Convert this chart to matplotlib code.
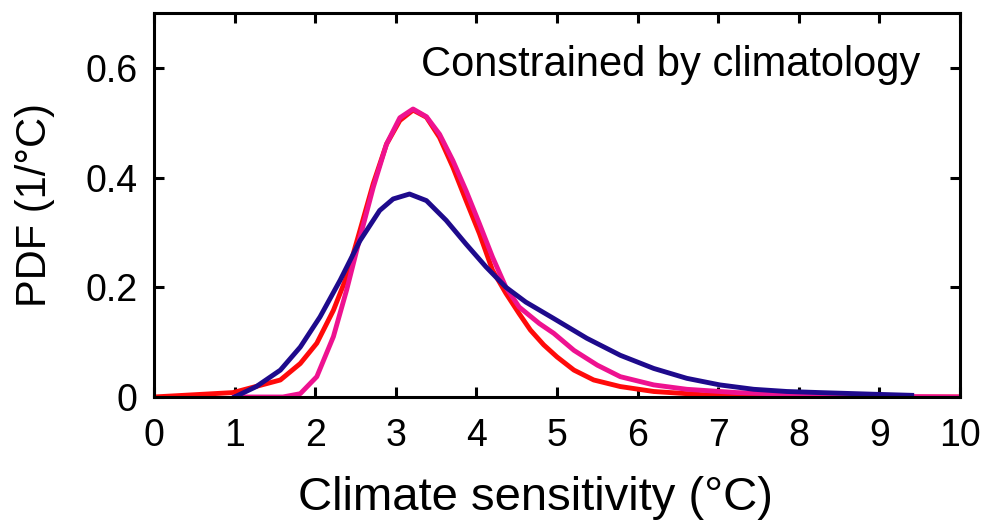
import numpy as np
import matplotlib.pyplot as plt

plt.rcParams['font.family'] = ['Liberation Sans', 'DejaVu Sans']

# Red curve
red_x = [0, 0.98, 1.568, 1.815, 2.02, 2.226, 2.39, 2.556, 2.72, 2.885, 3.05, 3.214, 3.38,
         3.543, 3.708, 3.872, 4.037, 4.2, 4.366, 4.53, 4.67, 4.835, 5.0, 5.21, 5.455, 5.785,
         6.2, 6.82, 7.44, 8.0, 10]
red_y = [0, 0.008, 0.031, 0.061, 0.098, 0.158, 0.219, 0.304, 0.389, 0.461, 0.504, 0.523, 0.51,
         0.473, 0.419, 0.358, 0.298, 0.231, 0.189, 0.152, 0.122, 0.095, 0.073, 0.049, 0.031, 0.019,
         0.01, 0.004, 0.001, 0.0, 0.0]

# Pink curve
pink_x = [1.0, 1.6, 1.815, 2.02, 2.226, 2.39, 2.556, 2.72, 2.885, 3.05, 3.214, 3.38, 3.543,
          3.708, 3.872, 4.037, 4.2, 4.366, 4.53, 4.78, 4.96, 5.21, 5.5, 5.785, 6.2, 6.61,
          7.23, 7.85, 8.26, 9.0, 10]
pink_y = [0.0, 0.0, 0.006, 0.037, 0.11, 0.195, 0.291, 0.382, 0.461, 0.509, 0.525, 0.511, 0.479,
          0.431, 0.376, 0.316, 0.255, 0.2, 0.164, 0.134, 0.116, 0.085, 0.058, 0.037, 0.022, 0.014,
          0.008, 0.005, 0.003, 0.001, 0.0]

# Blue curve
blue_x = [1.0, 1.27, 1.568, 1.815, 2.06, 2.31, 2.556, 2.8, 2.967, 3.17, 3.38, 3.625, 3.87,
          4.12, 4.366, 4.613, 4.96, 5.37, 5.785, 6.2, 6.61, 7.02, 7.44, 7.85, 8.26, 8.93, 9.4]
blue_y = [0.0, 0.019, 0.049, 0.091, 0.146, 0.213, 0.285, 0.34, 0.361, 0.37, 0.358, 0.322, 0.279,
          0.237, 0.2, 0.173, 0.143, 0.107, 0.076, 0.052, 0.034, 0.022, 0.014, 0.01, 0.008, 0.005, 0.003]

xticks = list(range(0, 11))
yticks = [0, 0.2, 0.4, 0.6]
ytick_labels = ['0', '0.2', '0.4', '0.6']

fig = plt.figure(figsize=(9.87, 5.31), dpi=100)
ax = fig.add_axes([0.156, 0.2524, 0.8167, 0.7231])

ax.plot(red_x, red_y, color='#ff0a0a', lw=3.5, solid_joinstyle='round')
ax.plot(pink_x, pink_y, color='#ee1290', lw=3.5, solid_joinstyle='round')
ax.plot(blue_x, blue_y, color='#1e0a8c', lw=3.5, solid_joinstyle='round')

ax.set_xlim(0, 10)
ax.set_ylim(0, 0.7)
ax.set_xticks(xticks)
ax.set_xticklabels([str(t) for t in xticks], fontsize=27)
ax.set_yticks(yticks)
ax.set_yticklabels(ytick_labels, fontsize=27)
ax.tick_params(direction='in', length=7, width=2.2, top=True, right=True)
ax.tick_params(axis='x', pad=15)
ax.tick_params(axis='y', pad=12)
for s in ax.spines.values():
    s.set_linewidth(2.2)

ax.text(9.5, 0.5855, 'Constrained by climatology', ha='right', va='baseline', fontsize=30)
ax.set_xlabel('Climate sensitivity (°C)', fontsize=34, labelpad=22)
ax.xaxis.set_label_coords(0.473, -0.205)
ax.set_ylabel('PDF (1/°C)', fontsize=30, labelpad=22)

fig.savefig('out.png', dpi=100)
